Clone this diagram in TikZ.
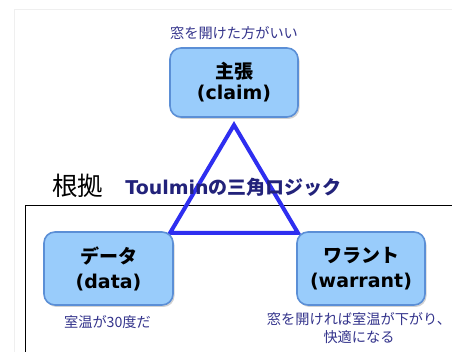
\documentclass[tikz,border=0pt]{standalone}
\usepackage{fontspec}
\setmainfont{DejaVu Sans}
\newfontfamily\jp{Noto Sans CJK JP}
\usetikzlibrary{shadows}
\definecolor{boxfill}{HTML}{99CCFB}
\definecolor{boxline}{HTML}{5B8FD6}
\definecolor{navy}{HTML}{34348C}
\definecolor{titlenavy}{HTML}{22227A}
\definecolor{tri}{HTML}{2E2EF0}
\definecolor{frame}{HTML}{EFEFEF}
\tikzset{
  roundbox/.style={draw=boxline, line width=1.6pt, fill=boxfill, rounded corners=11pt,
    inner sep=0pt, align=center, font=\bfseries\fontsize{19}{21}\selectfont,
    drop shadow={shadow xshift=1.5pt, shadow yshift=-2pt, opacity=0.35, fill=gray}},
  note/.style={text=navy, font=\jp\fontsize{14.2}{18}\selectfont, align=center, inner sep=0pt},
}
\begin{document}
\begin{tikzpicture}[x=1pt,y=-1pt]
\useasboundingbox (0,0) rectangle (452,352);
\fill[white] (0,0) rectangle (452,352);
% faint slide frame
\draw[frame, line width=1pt] (14,360) -- (14,10) -- (460,10);
% evidence frame
\draw[black, line width=1.6pt] (460,205.5) -- (25.5,205.5) -- (25.5,360);
% triangle
\coordinate (apex) at (234,125);
\coordinate (bl) at (170,233);
\coordinate (br) at (298,233);
\draw[tri, line width=4pt, line join=miter] (apex) -- (bl) -- (br) -- cycle;
% boxes
\node[roundbox, minimum width=128pt, minimum height=69pt] (claim) at (234,82.5)
  {{\jp\bfseries 主張}\\(claim)};
\node[roundbox, minimum width=129pt, minimum height=73pt] (data) at (108.5,268.5)
  {{\jp\bfseries データ}\\[4pt](data)};
\node[roundbox, minimum width=128pt, minimum height=73pt] (warrant) at (361,268.5)
  {{\jp\bfseries ワラント}\\[4pt](warrant)};
% notes
\node[note] (claimnote) at (234,33) {窓を開けた方がいい};
\node[note] (datanote) at (107.5,322) {室温が30度だ};
\node[note, anchor=north] (warrantnote) at (359,312) {窓を開ければ室温が下がり、\\快適になる};
% headings
\node[inner sep=0pt, font=\jp\fontsize{25.5}{27}\selectfont] (basis) at (77.5,186) {根拠};
\node[inner sep=0pt, text=titlenavy, font=\bfseries\fontsize{19}{21}\selectfont] (title) at (233.5,187)
  {Toulmin{\jp\bfseries の三角ロジック}};
\end{tikzpicture}
\end{document}
